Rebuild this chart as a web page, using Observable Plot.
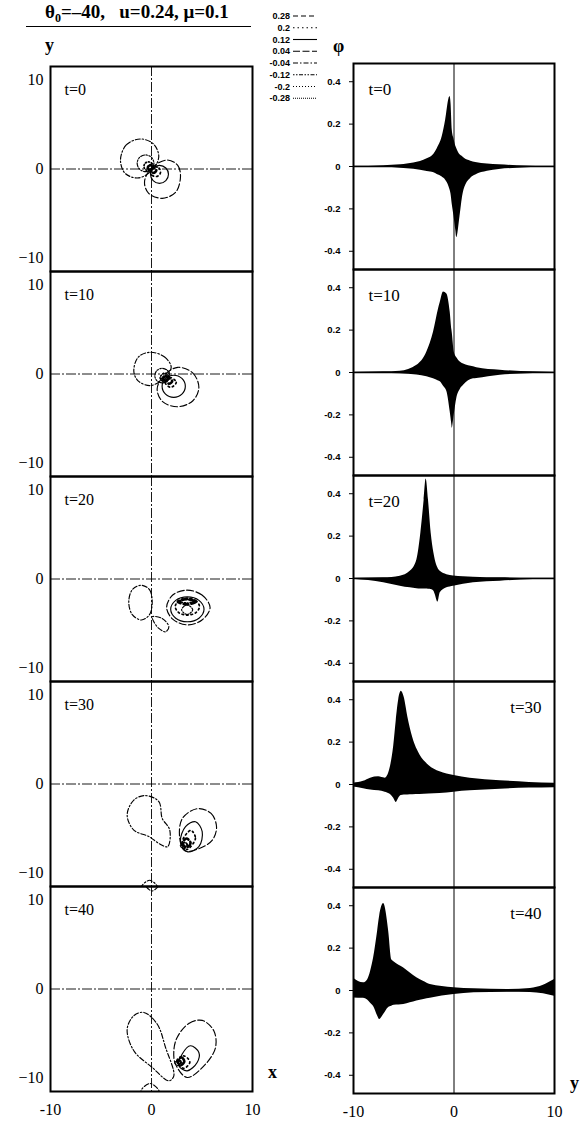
<!DOCTYPE html>
<html><head><meta charset="utf-8">
<script src="https://cdn.jsdelivr.net/npm/d3@7"></script>
<script src="https://cdn.jsdelivr.net/npm/@observablehq/plot@0.6"></script>
<style>
body{margin:0;background:#fff;}
#wrap{position:relative;width:581px;height:1129px;overflow:hidden;font-family:"Liberation Serif",serif;background:#fff;}
#wrap > svg{position:absolute;top:0;}
.abs{position:absolute;white-space:nowrap;line-height:1;font-weight:bold;color:#000;z-index:5;}
.sub{font-size:12px;position:relative;top:4px;}
</style></head><body><div id="wrap"></div>
<script>
// ---- data ----
const times = [0, 10, 20, 30, 40];
const levels = [0.28, 0.2, 0.12, 0.04, -0.04, -0.12, -0.2, -0.28];
const levelLabels = ["0.28", "0.2", "0.12", "0.04", "-0.04", "-0.12", "-0.2", "-0.28"];
const xTicks = [-10, 0, 10];
const yTicksLeft = [-10, 0, 10];
const phiTicks = [-0.4, -0.2, 0, 0.2, 0.4];

// contour lines: [level, [[x, y], ...]]
const contours0 = [
  [-0.04, [[-3.07,1.0],[-2.5,2.7],[-1.1,3.37],[0.2,2.8],[0.72,1.4],[0.1,-0.1],[-1.3,-1.0],[-2.6,-0.5]]],
  [0.04, [[1.55,1.01],[2.6,0.4],[2.87,-0.86],[2.4,-2.6],[1.06,-3.29],[-0.3,-2.7],[-0.69,-1.42],[0.0,0.1]]],
  [-0.12, [[-0.59,1.58],[0.0,1.3],[0.24,0.64],[0.0,-0.02],[-0.59,-0.3],[-1.18,-0.02],[-1.42,0.64],[-1.18,1.3]]],
  [0.12, [[0.79,0.41],[1.42,0.11],[1.68,-0.6],[1.42,-1.31],[0.79,-1.61],[0.16,-1.31],[-0.1,-0.6],[0.16,0.11]]],
  [-0.2, [[-0.3,0.8],[0.02,0.65],[0.15,0.3],[0.02,-0.05],[-0.3,-0.2],[-0.62,-0.05],[-0.75,0.3],[-0.62,0.65]]],
  [0.2, [[0.4,0.25],[0.75,0.09],[0.9,-0.3],[0.75,-0.69],[0.4,-0.85],[0.05,-0.69],[-0.1,-0.3],[0.05,0.09]]],
  [-0.28, [[-0.12,0.43],[0.13,0.15],[-0.12,-0.13],[-0.37,0.15]]],
  [0.28, [[0.2,0.15],[0.48,-0.15],[0.2,-0.45],[-0.08,-0.15]]]
];
const contours10 = [
  [-0.04, [[-0.1,2.44],[1.3,1.9],[1.95,0.75],[1.2,-0.5],[-0.1,-1.3],[-1.3,-0.8],[-1.75,0.3],[-1.3,1.9]]],
  [0.04, [[2.6,0.75],[4.1,0.1],[4.69,-1.5],[4.1,-3.0],[2.6,-3.67],[1.1,-3.1],[0.56,-1.69],[1.2,-0.2]]],
  [0.12, [[2.2,-0.14],[3.01,-0.5],[3.35,-1.38],[3.01,-2.26],[2.2,-2.62],[1.39,-2.26],[1.05,-1.38],[1.39,-0.5]]],
  [-0.12, [[1.06,0.64],[1.58,0.4],[1.79,-0.18],[1.58,-0.76],[1.06,-1.0],[0.54,-0.76],[0.33,-0.18],[0.54,0.4]]],
  [-0.2, [[1.3,0.1],[1.75,-0.4],[1.3,-0.9],[0.85,-0.4]]],
  [0.2, [[1.9,-0.4],[2.45,-0.95],[1.9,-1.5],[1.35,-0.95]]],
  [-0.28, [[1.4,-0.25],[1.65,-0.5],[1.4,-0.75],[1.15,-0.5]]],
  [0.28, [[1.75,-0.5],[2.05,-0.8],[1.75,-1.1],[1.45,-0.8]]]
];
const contours20 = [
  [-0.04, [[-1.0,-0.7],[-0.2,-1.2],[0.07,-2.6],[-0.2,-4.0],[-1.0,-4.6],[-1.9,-4.0],[-2.25,-2.6],[-1.9,-1.2]]],
  [-0.04, [[0.07,-4.24],[1.06,-4.43],[1.72,-5.36],[1.39,-5.92],[0.73,-5.54],[0.23,-4.79]]],
  [0.04, [[3.5,-1.25],[5.0,-1.8],[5.8,-3.2],[5.0,-4.6],[3.6,-5.15],[2.1,-4.5],[1.5,-3.2],[2.1,-1.8]]],
  [0.12, [[3.55,-2.0],[4.7,-2.4],[5.2,-3.4],[4.7,-4.4],[3.55,-4.8],[2.4,-4.4],[1.9,-3.4],[2.4,-2.4]]],
  [0.2, [[3.55,-2.15],[4.4,-2.43],[4.75,-3.1],[4.4,-3.77],[3.55,-4.05],[2.7,-3.77],[2.35,-3.1],[2.7,-2.43]]],
  [0.28, [[3.5,-2.25],[4.4,-2.55],[3.5,-2.85],[2.6,-2.55]]],
  [-0.12, [[3.53,-2.9],[4.08,-3.45],[3.53,-4.0],[2.98,-3.45]]],
  [-0.2, [[3.5,-2.3],[4.2,-2.5],[3.5,-2.7],[2.8,-2.5]]]
];
const contours30 = [
  [-0.04, [[-0.59,-1.3],[0.73,-1.98],[1.06,-3.85],[1.81,-5.17],[1.6,-7.03],[0.89,-6.78],[-0.26,-5.9],[-1.75,-5.17],[-2.41,-3.48],[-1.75,-1.8]]],
  [-0.04, [[-0.2,-10.8],[0.6,-11.6],[-0.2,-12.4],[-1.0,-11.6]]],
  [0.04, [[4.52,-2.77],[5.9,-3.3],[6.44,-4.83],[6.0,-6.33],[4.6,-7.3],[3.3,-7.5],[2.8,-6.14],[3.04,-3.9]]],
  [0.12, [[4.36,-4.23],[5.02,-5.35],[4.69,-7.03],[3.53,-7.6],[2.87,-6.47],[3.37,-4.79]]],
  [0.2, [[3.9,-5.2],[4.35,-6.1],[3.5,-7.35],[3.05,-6.45]]],
  [0.28, [[3.47,-6.12],[3.87,-6.62],[3.47,-7.12],[3.07,-6.62]]],
  [-0.12, [[3.2,-6.55],[3.55,-6.9],[3.2,-7.25],[2.85,-6.9]]],
  [-0.2, [[3.3,-6.55],[3.55,-6.8],[3.3,-7.05],[3.05,-6.8]]]
];
const contours40 = [
  [-0.04, [[-0.76,-2.63],[0.56,-3.93],[1.39,-6.56],[2.21,-9.74],[1.72,-10.3],[0.07,-8.8],[-1.75,-6.93],[-2.41,-4.5],[-1.75,-3.0]]],
  [-0.04, [[-0.15,-10.6],[0.75,-11.5],[-0.15,-12.4],[-1.05,-11.5]]],
  [-0.04, [[0.05,11.0],[0.7,11.7],[0.05,12.4],[-0.6,11.7]]],
  [0.04, [[2.54,-5.43],[3.7,-3.86],[5.02,-3.52],[6.17,-4.69],[6.34,-6.56],[5.35,-8.43],[3.53,-9.93],[2.38,-8.43],[2.21,-6.93]]],
  [0.12, [[3.86,-6.37],[4.69,-7.12],[4.52,-8.24],[3.53,-9.18],[2.71,-8.62],[3.04,-7.3]]],
  [0.2, [[3.2,-7.5],[3.8,-8.2],[3.2,-8.9],[2.6,-8.2]]],
  [0.28, [[2.9,-7.65],[3.25,-8.1],[2.9,-8.55],[2.55,-8.1]]],
  [-0.12, [[2.6,-8.0],[2.9,-8.3],[2.6,-8.6],[2.3,-8.3]]],
  [-0.2, [[2.75,-8.0],[2.95,-8.2],[2.75,-8.4],[2.55,-8.2]]]
];

// phi envelopes: [y, lower, upper]
const env0 = [
  [-10,-0.001,0.001],[-7,-0.004,0.004],[-5.3,-0.008,0.008],[-4,-0.013,0.016],[-2.67,-0.024,0.036],
  [-2.0,-0.03,0.058],[-1.67,-0.038,0.084],[-1.17,-0.05,0.141],[-0.83,-0.065,0.219],[-0.5,-0.095,0.32],
  [-0.4,-0.11,0.33],[-0.3,-0.13,0.3],[-0.17,-0.18,0.17],[0.0,-0.235,0.13],[0.17,-0.3,0.097],
  [0.27,-0.336,0.085],[0.6,-0.235,0.055],[0.83,-0.15,0.047],[1.0,-0.11,0.04],[1.67,-0.055,0.025],
  [2.16,-0.04,0.019],[3.33,-0.023,0.012],[4.5,-0.014,0.008],[6.3,-0.008,0.004],[10,-0.001,0.001]
];
const env10 = [
  [-10,-0.001,0.001],[-7,-0.003,0.003],[-5.35,-0.006,0.006],[-3.69,-0.012,0.034],[-2.7,-0.02,0.097],
  [-2.04,-0.03,0.19],[-1.54,-0.04,0.3],[-1.37,-0.044,0.33],[-1.04,-0.065,0.38],[-0.71,-0.09,0.37],
  [-0.38,-0.185,0.285],[-0.21,-0.25,0.2],[-0.18,-0.263,0.19],[0.02,-0.2,0.097],[0.28,-0.122,0.07],
  [0.62,-0.08,0.05],[0.95,-0.06,0.04],[1.94,-0.03,0.027],[2.27,-0.028,0.023],[4.6,-0.0125,0.011],
  [7.9,-0.005,0.003],[10,-0.002,0.001]
];
const env20 = [
  [-10,-0.004,0.001],[-7,-0.02,0.003],[-5.35,-0.036,0.011],[-4.36,-0.044,0.034],[-3.69,-0.048,0.089],
  [-3.3,-0.05,0.214],[-2.97,-0.05,0.37],[-2.77,-0.05,0.47],[-2.54,-0.051,0.37],[-2.27,-0.052,0.214],
  [-2.0,-0.06,0.12],[-1.87,-0.075,0.089],[-1.6,-0.111,0.05],[-1.37,-0.067,0.034],[-0.71,-0.044,0.018],
  [-0.05,-0.036,0.012],[1.94,-0.02,0.006],[4.6,-0.0125,0.003],[7.9,-0.005,0.001],[10,-0.002,0.001]
];
const env30 = [
  [-10,-0.012,0.006],[-9,-0.02,0.015],[-8.3,-0.026,0.03],[-7.5,-0.03,0.036],[-6.85,-0.036,0.03],
  [-6.4,-0.045,0.07],[-6.0,-0.065,0.18],[-5.75,-0.085,0.3],[-5.5,-0.065,0.4],[-5.25,-0.052,0.44],
  [-4.95,-0.05,0.41],[-4.6,-0.049,0.32],[-4.1,-0.048,0.22],[-3.4,-0.047,0.14],[-2.5,-0.045,0.09],
  [-1.4,-0.042,0.06],[0,-0.036,0.042],[1.6,-0.03,0.03],[4.6,-0.022,0.018],[7.5,-0.017,0.01],[10,-0.015,0.006]
];
const env40 = [
  [-10,-0.035,0.058],[-9.0,-0.037,0.036],[-8.6,-0.045,0.05],[-8.3,-0.06,0.09],[-8.0,-0.075,0.153],
  [-7.6,-0.12,0.28],[-7.4,-0.137,0.35],[-7.0,-0.113,0.41],[-6.5,-0.08,0.28],[-6.2,-0.074,0.145],
  [-5.95,-0.07,0.135],[-5.0,-0.066,0.106],[-3.7,-0.05,0.06],[-3.0,-0.042,0.042],[-2.36,-0.036,0.028],
  [0,-0.019,0.013],[2,-0.011,0.008],[5.3,-0.008,0.005],[7.6,-0.009,0.01],[8.9,-0.015,0.025],[10,-0.027,0.052]
];

// ---- tables built from the arrays ----
const contourSets = {0: contours0, 10: contours10, 20: contours20, 30: contours30, 40: contours40};
const envSets = {0: env0, 10: env10, 20: env20, 30: env30, 40: env40};
const contourRows = times.flatMap(t => contourSets[t].flatMap(([level, pts], i) =>
  pts.map(([x, y]) => ({t, level, id: t + "-" + i, x, y}))));
const envRows = times.flatMap(t => envSets[t].map(([y, lo, hi]) => ({t, y, lo, hi})));
const panelRows = times.map(t => ({t, label: "t=" + t}));

// ---- styles ----
const dash = new Map([
  [0.28, "5,3"], [0.2, "1.5,3"], [0.12, undefined], [0.04, "7,2.5"],
  [-0.04, "5,2,1.5,2"], [-0.12, "1.5,1.5,1.5,1.5,4,1.5"], [-0.2, "1,2"], [-0.28, "1,1"]
]);
const widthOf = l => Math.abs(l) >= 0.28 ? 2.6 : Math.abs(l) >= 0.2 ? 1.7 : 1.15;
const serif = "Liberation Serif";

const left = Plot.plot({
  width: 290, height: 1129,
  marginTop: 65, marginBottom: 37, marginLeft: 50, marginRight: 38,
  style: {fontFamily: serif, background: "transparent", overflow: "visible"},
  x: {domain: [-10, 10]},
  y: {domain: [-11.5, 11.5]},
  fy: {domain: times, padding: 0, axis: null},
  marks: [
    Plot.ruleY([0], {stroke: "black", strokeWidth: 0.9, strokeDasharray: "10,2,2,2"}),
    Plot.ruleX([0], {stroke: "black", strokeWidth: 0.9, strokeDasharray: "10,2,2,2"}),
    ...levels.map(l => Plot.line(contourRows.filter(d => d.level === l), {
      fy: "t", x: "x", y: "y", z: "id", curve: "catmull-rom-closed",
      stroke: "black", strokeWidth: widthOf(l), strokeDasharray: dash.get(l), clip: true
    })),
    Plot.text(panelRows, {fy: "t", text: "label", frameAnchor: "top-left", dx: 14, dy: 23,
      lineAnchor: "middle", textAnchor: "start", fontSize: 16, fontFamily: serif}),
    Plot.frame({stroke: "black", strokeWidth: 2}),
    Plot.axisY({ticks: yTicksLeft, tickSize: 0, tickPadding: 7, fontSize: 16, fontFamily: serif, label: null}),
    Plot.axisX({ticks: xTicks, tickSize: 0, tickPadding: 12, fontSize: 16, fontFamily: serif, label: null,
      tickFormat: d => String(d)})
  ]
});

const right = Plot.plot({
  width: 291, height: 1129,
  marginTop: 63, marginBottom: 36, marginLeft: 63, marginRight: 27,
  style: {fontFamily: serif, background: "transparent", overflow: "visible"},
  x: {domain: [-10, 10]},
  y: {domain: [-0.486, 0.486]},
  fy: {domain: times, padding: 0, axis: null},
  marks: [
    Plot.ruleX([0], {stroke: "black", strokeWidth: 1}),
    Plot.areaY(envRows, {fy: "t", x: "y", y1: "lo", y2: "hi", fill: "black", curve: "monotone-x", clip: true}),
    Plot.ruleY([0], {stroke: "black", strokeWidth: 1.4}),
    Plot.text(panelRows.filter(d => d.t < 30), {fy: "t", text: "label", frameAnchor: "top-left", dx: 15, dy: 26,
      lineAnchor: "middle", textAnchor: "start", fontSize: 17, fontFamily: serif}),
    Plot.text(panelRows.filter(d => d.t >= 30), {fy: "t", text: "label", frameAnchor: "top-right", dx: -13, dy: 26,
      lineAnchor: "middle", textAnchor: "end", fontSize: 17, fontFamily: serif}),
    Plot.frame({stroke: "black", strokeWidth: 2}),
    Plot.axisY({ticks: phiTicks, tickSize: 4, tickPadding: 9, fontSize: 9.5, fontWeight: "bold",
      fontFamily: "Liberation Sans", label: null, tickFormat: d => d === 0 ? "0" : String(d)}),
    Plot.axisX({ticks: xTicks, tickSize: 0, tickPadding: 12, fontSize: 16, fontFamily: serif, label: null,
      tickFormat: d => String(d)})
  ]
});

const wrap = document.getElementById("wrap");
left.style.left = "0px";
right.style.left = "290px";
wrap.appendChild(left);
wrap.appendChild(right);

// legend
const leg = d3.create("svg").attr("width", 75).attr("height", 110)
  .style("position", "absolute").style("left", "255px").style("top", "0px").style("z-index", 4);
levels.forEach((l, i) => {
  const yy = 16 + 11.75 * i;
  leg.append("text").attr("x", 35).attr("y", yy + 3).attr("text-anchor", "end")
    .attr("font-family", "Liberation Sans").attr("font-weight", "bold").attr("font-size", 9)
    .text(levelLabels[i]);
  leg.append("line").attr("x1", 38).attr("x2", 62).attr("y1", yy).attr("y2", yy)
    .attr("stroke", "black").attr("stroke-width", 1.1)
    .attr("stroke-dasharray", dash.get(l) || null);
});
wrap.appendChild(leg.node());

function label(html, x, y, size) {
  const d = document.createElement("div");
  d.className = "abs";
  d.style.left = x + "px"; d.style.top = y + "px"; d.style.fontSize = size + "px";
  d.innerHTML = html;
  wrap.appendChild(d);
}
label('θ<span class="sub">0</span>=–40,&nbsp;&nbsp; u=0.24, μ=0.1', 45, 2, 19);
const rule = document.createElement("div");
rule.style.cssText = "position:absolute;left:26px;top:26px;width:225px;border-top:1.5px solid #000;";
wrap.appendChild(rule);
label("y", 45, 36, 18);
label("φ", 333, 37, 18);
label("x", 268, 1063, 18);
label("y", 570, 1074, 18);
</script></body></html>
